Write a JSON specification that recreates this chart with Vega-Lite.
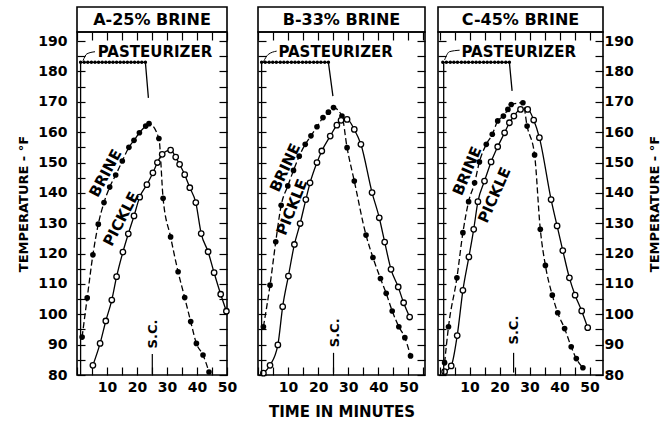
{
 "$schema": "https://vega.github.io/schema/vega-lite/v6.json",
 "padding": {"left": 16, "top": 6, "right": 0, "bottom": 0},
 "config": {
  "font": "DejaVu Sans",
  "view": {"stroke": "black", "strokeWidth": 1.6},
  "axis": {"labelFont": "DejaVu Sans", "labelFontWeight": "bold", "labelFontSize": 14, "labelColor": "black",
           "titleFont": "DejaVu Sans", "titleFontWeight": "bold", "titleFontSize": 13, "titleColor": "black",
           "domain": false, "grid": false, "tickColor": "black", "tickSize": -8, "tickWidth": 1.2,
           "labelOverlap": false, "labelFlush": false, "labelBound": false, "labelPadding": 9}
 },
 "datasets": {
  "A_brine": [{"t":1.7,"T":92.5},{"t":3.4,"T":105.4},{"t":5.3,"T":119.6},{"t":7.1,"T":129.7},{"t":9.0,"T":136.8},{"t":10.9,"T":141.9},{"t":12.9,"T":145.9},{"t":15.1,"T":150.5},{"t":17.3,"T":155.0},{"t":19.0,"T":157.3},{"t":20.8,"T":159.8},{"t":22.9,"T":162.0},{"t":24.0,"T":162.8},{"t":27.3,"T":157.9},{"t":28.7,"T":138.2},{"t":31.2,"T":125.5},{"t":33.7,"T":114.0},{"t":35.9,"T":105.5},{"t":37.9,"T":97.6},{"t":39.8,"T":90.4},{"t":42.0,"T":86.6},{"t":44.0,"T":81.0}],
  "A_pickle": [{"t":5.3,"T":83.2},{"t":7.7,"T":90.4},{"t":9.6,"T":97.8},{"t":11.6,"T":104.7},{"t":13.2,"T":112.4},{"t":15.3,"T":120.5},{"t":17.1,"T":126.5},{"t":19.0,"T":132.4},{"t":20.9,"T":138.6},{"t":23.3,"T":142.7},{"t":25.3,"T":146.6},{"t":26.8,"T":150.0},{"t":28.4,"T":152.7},{"t":31.2,"T":154.1},{"t":32.9,"T":151.8},{"t":34.2,"T":149.4},{"t":35.9,"T":146.0},{"t":37.6,"T":141.7},{"t":39.6,"T":136.8},{"t":41.4,"T":126.6},{"t":43.7,"T":120.6},{"t":45.7,"T":113.7},{"t":47.9,"T":106.6},{"t":49.8,"T":101.0}],
  "B_brine": [{"t":1.8,"T":95.9},{"t":4.0,"T":109.6},{"t":5.9,"T":123.9},{"t":7.7,"T":135.9},{"t":9.9,"T":142.3},{"t":11.8,"T":147.4},{"t":13.7,"T":152.1},{"t":15.7,"T":156.0},{"t":17.6,"T":158.8},{"t":19.6,"T":161.8},{"t":21.6,"T":164.8},{"t":23.4,"T":166.6},{"t":25.1,"T":168.1},{"t":27.9,"T":165.3},{"t":29.6,"T":154.9},{"t":32.0,"T":143.9},{"t":35.9,"T":126.1},{"t":38.2,"T":118.7},{"t":40.7,"T":111.8},{"t":42.6,"T":106.9},{"t":44.6,"T":101.1},{"t":46.8,"T":95.9},{"t":48.8,"T":92.3},{"t":50.7,"T":86.3}],
  "B_pickle": [{"t":1.8,"T":80.6},{"t":4.0,"T":83.2},{"t":6.6,"T":89.9},{"t":8.2,"T":102.5},{"t":10.1,"T":112.6},{"t":12.1,"T":123.0},{"t":14.0,"T":129.9},{"t":15.9,"T":137.8},{"t":17.3,"T":143.3},{"t":19.6,"T":150.0},{"t":21.2,"T":153.8},{"t":24.0,"T":158.7},{"t":26.2,"T":162.3},{"t":27.6,"T":163.9},{"t":29.6,"T":164.2},{"t":32.0,"T":160.9},{"t":34.2,"T":156.0},{"t":37.9,"T":140.1},{"t":40.3,"T":131.8},{"t":42.1,"T":123.8},{"t":44.2,"T":114.8},{"t":46.6,"T":109.0},{"t":48.4,"T":103.8},{"t":50.4,"T":99.1}],
  "C_brine": [{"t":1.7,"T":84.0},{"t":3.0,"T":95.9},{"t":5.8,"T":112.0},{"t":7.8,"T":126.9},{"t":9.7,"T":137.1},{"t":11.7,"T":143.3},{"t":13.3,"T":150.2},{"t":15.6,"T":156.0},{"t":17.6,"T":159.3},{"t":19.4,"T":163.7},{"t":21.3,"T":165.3},{"t":22.8,"T":167.5},{"t":23.9,"T":169.1},{"t":27.8,"T":169.7},{"t":29.2,"T":162.0},{"t":31.7,"T":152.5},{"t":33.6,"T":128.0},{"t":35.3,"T":116.1},{"t":37.6,"T":106.3},{"t":39.4,"T":100.5},{"t":41.7,"T":95.3},{"t":43.9,"T":89.3},{"t":45.6,"T":85.4},{"t":47.8,"T":82.4}],
  "C_pickle": [{"t":1.7,"T":81.1},{"t":3.9,"T":83.0},{"t":5.9,"T":93.0},{"t":7.8,"T":107.9},{"t":9.8,"T":118.9},{"t":11.4,"T":128.0},{"t":12.8,"T":137.1},{"t":15.0,"T":143.9},{"t":17.2,"T":150.2},{"t":19.4,"T":155.2},{"t":21.7,"T":159.8},{"t":23.3,"T":163.1},{"t":24.8,"T":165.3},{"t":27.0,"T":167.5},{"t":29.4,"T":167.5},{"t":31.4,"T":164.0},{"t":33.3,"T":158.2},{"t":37.2,"T":137.8},{"t":39.2,"T":129.1},{"t":41.1,"T":121.0},{"t":43.3,"T":112.0},{"t":45.2,"T":106.3},{"t":47.4,"T":101.1},{"t":49.4,"T":95.6}],
  "A_past": [{"i":0,"t":1.2,"T":80},{"i":1,"t":1.2,"T":183},{"i":2,"t":22.8,"T":183},{"i":3,"t":23.8,"T":171.3}],
  "B_past": [{"i":0,"t":1.2,"T":80},{"i":1,"t":1.2,"T":183},{"i":2,"t":23.4,"T":183},{"i":3,"t":24.9,"T":171.9}],
  "C_past": [{"i":0,"t":1.4,"T":80},{"i":1,"t":1.4,"T":183},{"i":2,"t":23.3,"T":183},{"i":3,"t":24.2,"T":173.6}],
  "A_dots": [{"t":1.2,"T":183},{"t":2.4,"T":183},{"t":3.6,"T":183},{"t":4.8,"T":183},{"t":6.0,"T":183},{"t":7.2,"T":183},{"t":8.4,"T":183},{"t":9.6,"T":183},{"t":10.8,"T":183},{"t":12.0,"T":183},{"t":13.2,"T":183},{"t":14.4,"T":183},{"t":15.6,"T":183},{"t":16.8,"T":183},{"t":18.0,"T":183},{"t":19.2,"T":183},{"t":20.4,"T":183},{"t":21.6,"T":183},{"t":22.8,"T":183}],
  "B_dots": [{"t":1.2,"T":183},{"t":2.4,"T":183},{"t":3.7,"T":183},{"t":4.9,"T":183},{"t":6.1,"T":183},{"t":7.4,"T":183},{"t":8.6,"T":183},{"t":9.8,"T":183},{"t":11.1,"T":183},{"t":12.3,"T":183},{"t":13.5,"T":183},{"t":14.8,"T":183},{"t":16.0,"T":183},{"t":17.2,"T":183},{"t":18.5,"T":183},{"t":19.7,"T":183},{"t":20.9,"T":183},{"t":22.2,"T":183},{"t":23.4,"T":183}],
  "C_dots": [{"t":1.1,"T":183},{"t":2.3,"T":183},{"t":3.6,"T":183},{"t":4.8,"T":183},{"t":6.0,"T":183},{"t":7.3,"T":183},{"t":8.5,"T":183},{"t":9.7,"T":183},{"t":11.0,"T":183},{"t":12.2,"T":183},{"t":13.4,"T":183},{"t":14.7,"T":183},{"t":15.9,"T":183},{"t":17.1,"T":183},{"t":18.4,"T":183},{"t":19.6,"T":183},{"t":20.8,"T":183},{"t":22.1,"T":183},{"t":23.3,"T":183}],
  "A_lead": [{"i":0,"t":2.0,"T":183.5},{"i":1,"t":3.3,"T":185.8},{"i":2,"t":6.0,"T":186.5}],
  "B_lead": [{"i":0,"t":1.8,"T":183.2},{"i":1,"t":3.4,"T":185.6},{"i":2,"t":6.2,"T":186.7}],
  "C_lead": [{"i":0,"t":1.7,"T":183.8},{"i":1,"t":3.3,"T":186.5},{"i":2,"t":6.7,"T":187.0}],
  "A_lab": [{"lab":"PASTEURIZER","t":26.0,"T":186.3},{"lab":"S.C.","t":25.2,"T":93.5},{"lab":"BRINE","t":9.5,"T":146.5},{"lab":"PICKLE","t":14.7,"T":131.4}],
  "B_lab": [{"lab":"PASTEURIZER","t":25.8,"T":186.3},{"lab":"S.C.","t":25.7,"T":93.9},{"lab":"BRINE","t":9.0,"T":148.3},{"lab":"PICKLE","t":11.3,"T":135.3}],
  "C_lab": [{"lab":"PASTEURIZER","t":26.4,"T":186.5},{"lab":"S.C.","t":24.7,"T":94.8},{"lab":"BRINE","t":9.2,"T":147.2},{"lab":"PICKLE","t":18.3,"T":139.3}],
  "A_sc": [{"t":25.1,"T":80.3,"T2":86.9}],
  "B_sc": [{"t":25.1,"T":80.8,"T2":87.3}],
  "C_sc": [{"t":24.7,"T":80.8,"T2":87.3}],
  "heads": [{"p":"A","txt":"A-25%  BRINE","hx":1,"hy":1},{"p":"B","txt":"B-33%  BRINE","hx":1,"hy":1},{"p":"C","txt":"C-45%  BRINE","hx":1,"hy":1}]
 },
 "hconcat": [
  {"vconcat": [
    {"width": 150, "height": 25, "data": {"name": "heads"}, "transform": [{"filter": {"field": "p", "equal": "A"}}],
     "mark": {"type": "text", "fontSize": 16, "fontWeight": "bold", "color": "black", "baseline": "middle"},
     "encoding": {"text": {"field": "txt"},
      "x": {"field": "hx", "type": "quantitative", "scale": {"domain": [0, 2]}, "axis": null},
      "y": {"field": "hy", "type": "quantitative", "scale": {"domain": [0, 2]}, "axis": null}}},
    {"width": 150, "height": 343,
     "encoding": {
      "x": {"field": "t", "type": "quantitative", "scale": {"domain": [0, 50], "nice": false, "zero": false}, "axis": null},
      "y": {"field": "T", "type": "quantitative", "scale": {"domain": [80, 193], "nice": false, "zero": false}, "axis": null}},
     "layer": [
      {"data": {"name": "A_brine"}, "mark": {"type": "line", "color": "black", "strokeWidth": 1.3, "strokeDash": [6, 3], "interpolate": "monotone"},
       "encoding": {
        "x": {"field": "t", "type": "quantitative", "scale": {"domain": [0, 50], "nice": false, "zero": false},
              "axis": {"orient": "bottom", "values": [0,5,10,15,20,25,30,35,40,45,50], "labelPadding": 13, "labelExpr": "datum.value > 0 && datum.value % 10 == 0 ? datum.label : ''", "title": null}},
        "y": {"field": "T", "type": "quantitative", "scale": {"domain": [80, 193], "nice": false, "zero": false},
              "axis": {"orient": "left", "values": [80,85,90,95,100,105,110,115,120,125,130,135,140,145,150,155,160,165,170,175,180,185,190], "labelPadding": 18, "labelExpr": "datum.value % 10 == 0 ? datum.label : ''", "title": "TEMPERATURE - °F", "titlePadding": 7}}}},
      {"data": {"name": "A_pickle"}, "mark": {"type": "line", "color": "black", "strokeWidth": 1.3, "interpolate": "monotone"},
       "encoding": {
        "x": {"field": "t", "type": "quantitative", "scale": {"domain": [0, 50], "nice": false, "zero": false},
              "axis": {"orient": "top", "values": [0,5,10,15,20,25,30,35,40,45,50], "labels": false, "title": null}},
        "y": {"field": "T", "type": "quantitative", "scale": {"domain": [80, 193], "nice": false, "zero": false},
              "axis": {"orient": "right", "values": [80,85,90,95,100,105,110,115,120,125,130,135,140,145,150,155,160,165,170,175,180,185,190], "labels": false, "title": null}}}},
      {"data": {"name": "A_brine"}, "mark": {"type": "point", "shape": "circle", "filled": true, "color": "black", "size": 32, "opacity": 1}},
      {"data": {"name": "A_pickle"}, "mark": {"type": "point", "shape": "circle", "filled": true, "fill": "white", "stroke": "black", "strokeWidth": 1.3, "size": 30, "opacity": 1}},
      {"data": {"name": "A_past"}, "mark": {"type": "line", "color": "black", "strokeWidth": 1.3}, "encoding": {"order": {"field": "i"}}},
      {"data": {"name": "A_dots"}, "mark": {"type": "point", "shape": "circle", "filled": true, "color": "black", "size": 12, "opacity": 1}},
      {"data": {"name": "A_lead"}, "mark": {"type": "line", "color": "black", "strokeWidth": 1, "interpolate": "monotone"}, "encoding": {"order": {"field": "i"}}},
      {"data": {"name": "A_sc"}, "mark": {"type": "rule", "color": "black", "strokeWidth": 1.2}, "encoding": {"y2": {"field": "T2"}}},
      {"data": {"name": "A_lab"}, "transform": [{"filter": {"field": "lab", "equal": "PASTEURIZER"}}], "mark": {"type": "text", "fontSize": 15, "fontWeight": "bold", "color": "black"}, "encoding": {"text": {"field": "lab"}}},
      {"data": {"name": "A_lab"}, "transform": [{"filter": {"field": "lab", "equal": "S.C."}}], "mark": {"type": "text", "fontSize": 13, "fontWeight": "bold", "color": "black", "angle": -90}, "encoding": {"text": {"field": "lab"}}},
      {"data": {"name": "A_lab"}, "transform": [{"filter": {"field": "lab", "equal": "BRINE"}}], "mark": {"type": "text", "fontSize": 15, "fontWeight": "bold", "color": "black", "angle": -62}, "encoding": {"text": {"field": "lab"}}},
      {"data": {"name": "A_lab"}, "transform": [{"filter": {"field": "lab", "equal": "PICKLE"}}], "mark": {"type": "text", "fontSize": 15, "fontWeight": "bold", "color": "black", "angle": -62}, "encoding": {"text": {"field": "lab"}}}
     ],
     "resolve": {"axis": {"x": "independent", "y": "independent"}}}
   ], "spacing": 0, "bounds": "flush"},
  {"hconcat": [
    {"vconcat": [
      {"width": 167, "height": 25, "data": {"name": "heads"}, "transform": [{"filter": {"field": "p", "equal": "B"}}],
       "mark": {"type": "text", "fontSize": 16, "fontWeight": "bold", "color": "black", "baseline": "middle"},
       "encoding": {"text": {"field": "txt"},
        "x": {"field": "hx", "type": "quantitative", "scale": {"domain": [0, 2]}, "axis": null},
        "y": {"field": "hy", "type": "quantitative", "scale": {"domain": [0, 2]}, "axis": null}}},
      {"width": 167, "height": 343,
       "encoding": {
        "x": {"field": "t", "type": "quantitative", "scale": {"domain": [0, 55.5], "nice": false, "zero": false}, "axis": null},
        "y": {"field": "T", "type": "quantitative", "scale": {"domain": [80, 193], "nice": false, "zero": false}, "axis": null}},
       "layer": [
        {"data": {"name": "B_brine"}, "mark": {"type": "line", "color": "black", "strokeWidth": 1.3, "strokeDash": [6, 3], "interpolate": "monotone"},
         "encoding": {
          "x": {"field": "t", "type": "quantitative", "scale": {"domain": [0, 55.5], "nice": false, "zero": false},
                "axis": {"orient": "bottom", "values": [0,5,10,15,20,25,30,35,40,45,50,55], "labelPadding": 13, "labelExpr": "datum.value > 0 && datum.value % 10 == 0 ? datum.label : ''", "title": "TIME IN MINUTES", "titleFontSize": 15, "titlePadding": 10}},
          "y": {"field": "T", "type": "quantitative", "scale": {"domain": [80, 193], "nice": false, "zero": false},
                "axis": {"orient": "left", "values": [80,85,90,95,100,105,110,115,120,125,130,135,140,145,150,155,160,165,170,175,180,185,190], "labels": false, "title": null}}}},
        {"data": {"name": "B_pickle"}, "mark": {"type": "line", "color": "black", "strokeWidth": 1.3, "interpolate": "monotone"},
         "encoding": {
          "x": {"field": "t", "type": "quantitative", "scale": {"domain": [0, 55.5], "nice": false, "zero": false},
                "axis": {"orient": "top", "values": [0,5,10,15,20,25,30,35,40,45,50,55], "labels": false, "title": null}},
          "y": {"field": "T", "type": "quantitative", "scale": {"domain": [80, 193], "nice": false, "zero": false},
                "axis": {"orient": "right", "values": [80,85,90,95,100,105,110,115,120,125,130,135,140,145,150,155,160,165,170,175,180,185,190], "labels": false, "title": null}}}},
        {"data": {"name": "B_brine"}, "mark": {"type": "point", "shape": "circle", "filled": true, "color": "black", "size": 32, "opacity": 1}},
        {"data": {"name": "B_pickle"}, "mark": {"type": "point", "shape": "circle", "filled": true, "fill": "white", "stroke": "black", "strokeWidth": 1.3, "size": 30, "opacity": 1}},
        {"data": {"name": "B_past"}, "mark": {"type": "line", "color": "black", "strokeWidth": 1.3}, "encoding": {"order": {"field": "i"}}},
        {"data": {"name": "B_dots"}, "mark": {"type": "point", "shape": "circle", "filled": true, "color": "black", "size": 12, "opacity": 1}},
        {"data": {"name": "B_lead"}, "mark": {"type": "line", "color": "black", "strokeWidth": 1, "interpolate": "monotone"}, "encoding": {"order": {"field": "i"}}},
        {"data": {"name": "B_sc"}, "mark": {"type": "rule", "color": "black", "strokeWidth": 1.2}, "encoding": {"y2": {"field": "T2"}}},
        {"data": {"name": "B_lab"}, "transform": [{"filter": {"field": "lab", "equal": "PASTEURIZER"}}], "mark": {"type": "text", "fontSize": 15, "fontWeight": "bold", "color": "black"}, "encoding": {"text": {"field": "lab"}}},
        {"data": {"name": "B_lab"}, "transform": [{"filter": {"field": "lab", "equal": "S.C."}}], "mark": {"type": "text", "fontSize": 13, "fontWeight": "bold", "color": "black", "angle": -90}, "encoding": {"text": {"field": "lab"}}},
        {"data": {"name": "B_lab"}, "transform": [{"filter": {"field": "lab", "equal": "BRINE"}}], "mark": {"type": "text", "fontSize": 15, "fontWeight": "bold", "color": "black", "angle": -65}, "encoding": {"text": {"field": "lab"}}},
        {"data": {"name": "B_lab"}, "transform": [{"filter": {"field": "lab", "equal": "PICKLE"}}], "mark": {"type": "text", "fontSize": 15, "fontWeight": "bold", "color": "black", "angle": -68}, "encoding": {"text": {"field": "lab"}}}
       ],
       "resolve": {"axis": {"x": "independent", "y": "independent"}}}
     ], "spacing": 0, "bounds": "flush"},
    {"vconcat": [
      {"width": 165, "height": 25, "data": {"name": "heads"}, "transform": [{"filter": {"field": "p", "equal": "C"}}],
       "mark": {"type": "text", "fontSize": 16, "fontWeight": "bold", "color": "black", "baseline": "middle"},
       "encoding": {"text": {"field": "txt"},
        "x": {"field": "hx", "type": "quantitative", "scale": {"domain": [0, 2]}, "axis": null},
        "y": {"field": "hy", "type": "quantitative", "scale": {"domain": [0, 2]}, "axis": null}}},
      {"width": 165, "height": 343,
       "encoding": {
        "x": {"field": "t", "type": "quantitative", "scale": {"domain": [-0.5, 54.5], "nice": false, "zero": false}, "axis": null},
        "y": {"field": "T", "type": "quantitative", "scale": {"domain": [80, 193], "nice": false, "zero": false}, "axis": null}},
       "layer": [
        {"data": {"name": "C_brine"}, "mark": {"type": "line", "color": "black", "strokeWidth": 1.3, "strokeDash": [6, 3], "interpolate": "monotone"},
         "encoding": {
          "x": {"field": "t", "type": "quantitative", "scale": {"domain": [-0.5, 54.5], "nice": false, "zero": false},
                "axis": {"orient": "bottom", "values": [0,5,10,15,20,25,30,35,40,45,50], "labelPadding": 13, "labelExpr": "datum.value > 0 && datum.value % 10 == 0 ? datum.label : ''", "title": null}},
          "y": {"field": "T", "type": "quantitative", "scale": {"domain": [80, 193], "nice": false, "zero": false},
                "axis": {"orient": "left", "values": [80,85,90,95,100,105,110,115,120,125,130,135,140,145,150,155,160,165,170,175,180,185,190], "labels": false, "title": null}}}},
        {"data": {"name": "C_pickle"}, "mark": {"type": "line", "color": "black", "strokeWidth": 1.3, "interpolate": "monotone"},
         "encoding": {
          "x": {"field": "t", "type": "quantitative", "scale": {"domain": [-0.5, 54.5], "nice": false, "zero": false},
                "axis": {"orient": "top", "values": [0,5,10,15,20,25,30,35,40,45,50], "labels": false, "title": null}},
          "y": {"field": "T", "type": "quantitative", "scale": {"domain": [80, 193], "nice": false, "zero": false},
                "axis": {"orient": "right", "values": [80,85,90,95,100,105,110,115,120,125,130,135,140,145,150,155,160,165,170,175,180,185,190], "labelExpr": "datum.value % 10 == 0 ? datum.label : ''", "title": "TEMPERATURE - °F", "titleAngle": -90, "titleBaseline": "top", "titlePadding": 15}}}},
        {"data": {"name": "C_brine"}, "mark": {"type": "point", "shape": "circle", "filled": true, "color": "black", "size": 32, "opacity": 1}},
        {"data": {"name": "C_pickle"}, "mark": {"type": "point", "shape": "circle", "filled": true, "fill": "white", "stroke": "black", "strokeWidth": 1.3, "size": 30, "opacity": 1}},
        {"data": {"name": "C_past"}, "mark": {"type": "line", "color": "black", "strokeWidth": 1.3}, "encoding": {"order": {"field": "i"}}},
        {"data": {"name": "C_dots"}, "mark": {"type": "point", "shape": "circle", "filled": true, "color": "black", "size": 12, "opacity": 1}},
        {"data": {"name": "C_lead"}, "mark": {"type": "line", "color": "black", "strokeWidth": 1, "interpolate": "monotone"}, "encoding": {"order": {"field": "i"}}},
        {"data": {"name": "C_sc"}, "mark": {"type": "rule", "color": "black", "strokeWidth": 1.2}, "encoding": {"y2": {"field": "T2"}}},
        {"data": {"name": "C_lab"}, "transform": [{"filter": {"field": "lab", "equal": "PASTEURIZER"}}], "mark": {"type": "text", "fontSize": 15, "fontWeight": "bold", "color": "black"}, "encoding": {"text": {"field": "lab"}}},
        {"data": {"name": "C_lab"}, "transform": [{"filter": {"field": "lab", "equal": "S.C."}}], "mark": {"type": "text", "fontSize": 13, "fontWeight": "bold", "color": "black", "angle": -90}, "encoding": {"text": {"field": "lab"}}},
        {"data": {"name": "C_lab"}, "transform": [{"filter": {"field": "lab", "equal": "BRINE"}}], "mark": {"type": "text", "fontSize": 15, "fontWeight": "bold", "color": "black", "angle": -67}, "encoding": {"text": {"field": "lab"}}},
        {"data": {"name": "C_lab"}, "transform": [{"filter": {"field": "lab", "equal": "PICKLE"}}], "mark": {"type": "text", "fontSize": 15, "fontWeight": "bold", "color": "black", "angle": -66}, "encoding": {"text": {"field": "lab"}}}
       ],
       "resolve": {"axis": {"x": "independent", "y": "independent"}}}
     ], "spacing": 0, "bounds": "flush"}
   ], "spacing": 9}
 ],
 "spacing": 18
}
